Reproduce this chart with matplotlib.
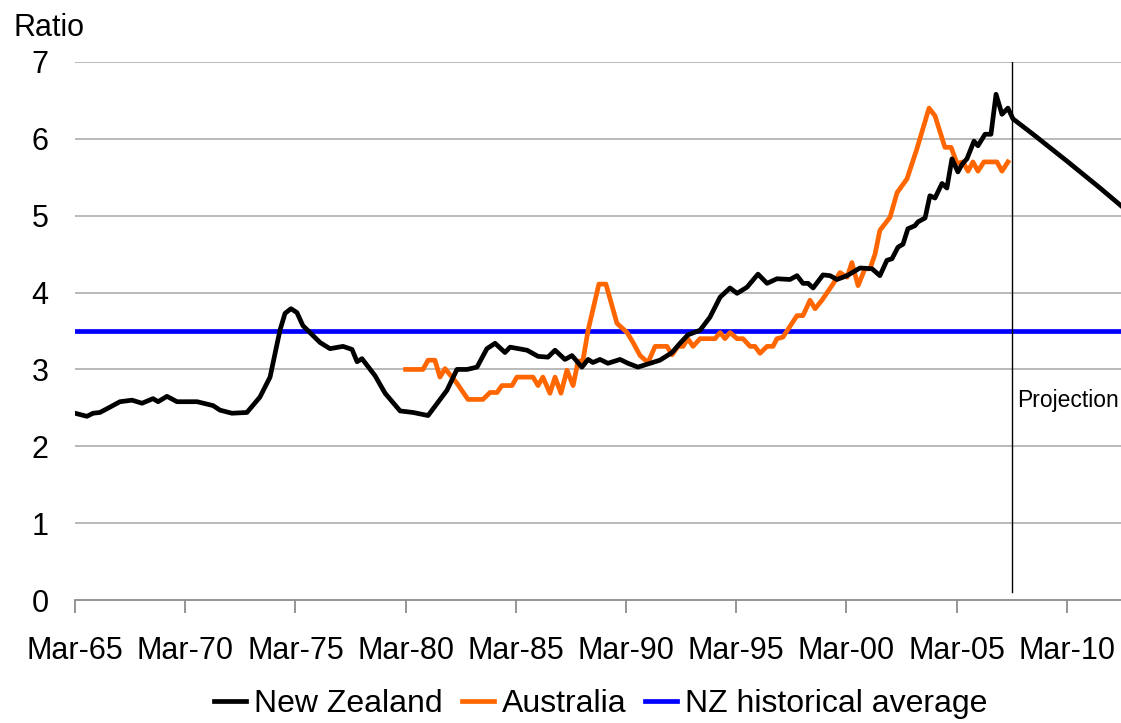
import matplotlib
matplotlib.use("Agg")
import matplotlib.pyplot as plt
from matplotlib.ticker import FixedLocator

plt.rcParams["font.family"] = ["Liberation Sans", "DejaVu Sans"]

# House price to income ratio, dates as decimal years (Mar-65 = 1965.0)
nz_dates = [
    1965.00, 1965.54, 1965.82, 1966.13, 1966.59, 1967.04, 1967.59, 1968.04,
    1968.54, 1968.77, 1969.17, 1969.63, 1970.54, 1971.26, 1971.58, 1972.12,
    1972.80, 1973.39, 1973.85, 1974.30, 1974.53, 1974.80, 1975.07, 1975.34,
    1975.80, 1976.12, 1976.57, 1977.16, 1977.57, 1977.80, 1978.02, 1978.61,
    1979.07, 1979.75, 1980.34, 1981.02, 1981.88, 1982.33, 1982.79, 1983.24,
    1983.69, 1984.06, 1984.51, 1984.74, 1985.51, 1986.01, 1986.46, 1986.78,
    1987.23, 1987.55, 1988.00, 1988.28, 1988.50, 1988.82, 1989.18, 1989.73,
    1990.09, 1990.54, 1991.54, 1992.09, 1992.45, 1992.81, 1993.36, 1993.81,
    1994.27, 1994.72, 1995.04, 1995.49, 1995.99, 1996.40, 1996.85, 1997.44,
    1997.76, 1998.03, 1998.26, 1998.49, 1998.94, 1999.26, 1999.57, 2000.03,
    2000.62, 2001.16, 2001.52, 2001.84, 2002.07, 2002.34, 2002.57, 2002.79,
    2003.11, 2003.25, 2003.57, 2003.79, 2004.02, 2004.34, 2004.56, 2004.79,
    2005.06, 2005.25, 2005.47, 2005.79, 2005.97, 2006.29, 2006.56, 2006.79,
    2007.06, 2007.33, 2007.56,
    # projection
    2008.47, 2010.01, 2011.51, 2012.46,
]
nz_values = [
    2.43, 2.39, 2.43, 2.44, 2.51, 2.58, 2.60, 2.56,
    2.62, 2.58, 2.65, 2.58, 2.58, 2.53, 2.47, 2.43,
    2.44, 2.64, 2.90, 3.51, 3.73, 3.79, 3.74, 3.57,
    3.44, 3.35, 3.27, 3.30, 3.26, 3.10, 3.14, 2.92,
    2.69, 2.46, 2.44, 2.40, 2.73, 3.00, 3.00, 3.03,
    3.27, 3.34, 3.22, 3.29, 3.25, 3.17, 3.16, 3.25,
    3.13, 3.18, 3.03, 3.13, 3.09, 3.13, 3.08, 3.13,
    3.08, 3.03, 3.12, 3.22, 3.34, 3.45, 3.51, 3.68,
    3.94, 4.06, 3.99, 4.07, 4.24, 4.12, 4.18, 4.17,
    4.22, 4.12, 4.12, 4.06, 4.23, 4.22, 4.17, 4.22,
    4.32, 4.31, 4.22, 4.42, 4.44, 4.59, 4.63, 4.83,
    4.87, 4.92, 4.97, 5.26, 5.23, 5.42, 5.36, 5.74,
    5.57, 5.67, 5.74, 5.97, 5.91, 6.06, 6.06, 6.58,
    6.32, 6.40, 6.26,
    6.06, 5.71, 5.36, 5.13,
]

au_dates = [
    1980.00, 1980.79, 1981.02, 1981.33, 1981.56, 1981.79, 1982.33, 1982.83,
    1983.51, 1983.83, 1984.15, 1984.37, 1984.83, 1985.05, 1985.78, 1986.01,
    1986.23, 1986.55, 1986.78, 1987.05, 1987.32, 1987.60, 1987.82, 1988.05,
    1988.28, 1988.77, 1989.09, 1989.59, 1990.05, 1990.32, 1990.64, 1991.00,
    1991.32, 1991.86, 1992.09, 1992.36, 1992.59, 1992.81, 1993.04, 1993.36,
    1994.04, 1994.27, 1994.49, 1994.72, 1995.04, 1995.31, 1995.63, 1995.85,
    1996.08, 1996.40, 1996.67, 1996.85, 1997.12, 1997.53, 1997.76, 1998.03,
    1998.35, 1998.58, 1998.89, 1999.39, 1999.71, 2000.03, 2000.25, 2000.53,
    2000.84, 2001.07, 2001.30, 2001.52, 2001.98, 2002.30, 2002.75, 2003.20,
    2003.75, 2004.02, 2004.47, 2004.75, 2005.02, 2005.29, 2005.52, 2005.74,
    2005.97, 2006.24, 2006.83, 2007.06, 2007.33,
]
au_values = [
    3.00, 3.00, 3.12, 3.12, 2.90, 3.01, 2.82, 2.61,
    2.61, 2.70, 2.70, 2.79, 2.79, 2.90, 2.90, 2.79,
    2.90, 2.69, 2.90, 2.69, 2.99, 2.79, 3.10, 3.12,
    3.51, 4.11, 4.11, 3.60, 3.48, 3.35, 3.18, 3.09,
    3.30, 3.30, 3.19, 3.30, 3.30, 3.40, 3.30, 3.40,
    3.40, 3.48, 3.40, 3.48, 3.40, 3.40, 3.30, 3.30,
    3.21, 3.30, 3.30, 3.40, 3.42, 3.60, 3.70, 3.70,
    3.90, 3.79, 3.90, 4.11, 4.26, 4.20, 4.39, 4.09,
    4.31, 4.31, 4.50, 4.81, 4.98, 5.30, 5.48, 5.87,
    6.40, 6.30, 5.89, 5.89, 5.68, 5.70, 5.58, 5.70,
    5.58, 5.70, 5.70, 5.58, 5.70,
]

nz_average = 3.5
projection_start = 2007.51

x_tick_pos = [1965, 1970, 1975, 1980, 1985, 1990, 1995, 2000, 2005, 2010]
x_tick_labels = ["Mar-65", "Mar-70", "Mar-75", "Mar-80", "Mar-85",
                 "Mar-90", "Mar-95", "Mar-00", "Mar-05", "Mar-10"]
y_ticks = [0, 1, 2, 3, 4, 5, 6, 7]

fig = plt.figure(figsize=(11.21, 7.23), dpi=100)
ax = fig.add_axes([75 / 1121, 123 / 723, 1046 / 1121, 538 / 723])

ax.set_xlim(1965.0, 2012.46)
ax.set_ylim(0, 7)

for y in y_ticks[1:]:
    ax.axhline(y, color="#b4b4b4", lw=1.3, zorder=1)

ax.plot(nz_dates, nz_values, color="black", lw=3.4, label="New Zealand",
        zorder=4, solid_joinstyle="round")
ax.plot(au_dates, au_values, color="#FF6600", lw=3.4, label="Australia",
        zorder=3, solid_joinstyle="round")
ax.axhline(nz_average, color="#0000FF", lw=3.4, label="NZ historical average",
           zorder=2)

ax.axvline(projection_start, ymin=0.015, ymax=1.0, color="black", lw=1.0,
           zorder=5)
ax.text(projection_start + 0.25, 2.6, "Projection", fontsize=16.5,
        ha="left", va="center")

for side in ("left", "right", "top"):
    ax.spines[side].set_visible(False)
ax.spines["bottom"].set_color("#8c8c8c")
ax.spines["bottom"].set_linewidth(1.3)

ax.xaxis.set_major_locator(FixedLocator(x_tick_pos))
ax.set_xticklabels(x_tick_labels)
ax.set_yticks(y_ticks)
ax.tick_params(axis="x", direction="out", length=9, width=1.3,
               color="#8c8c8c", labelsize=22, pad=17)
ax.tick_params(axis="y", length=0, labelsize=22, pad=19)

fig.text(14 / 1121, 1 - 28 / 723, "Ratio", fontsize=22, ha="left",
         va="center")

fig.legend(loc="center", bbox_to_anchor=(0.536, 1 - 704 / 723), ncol=3,
           frameon=False, fontsize=23, handlelength=1.0, handletextpad=0.25,
           columnspacing=0.6)

fig.savefig("out.png", dpi=100)
